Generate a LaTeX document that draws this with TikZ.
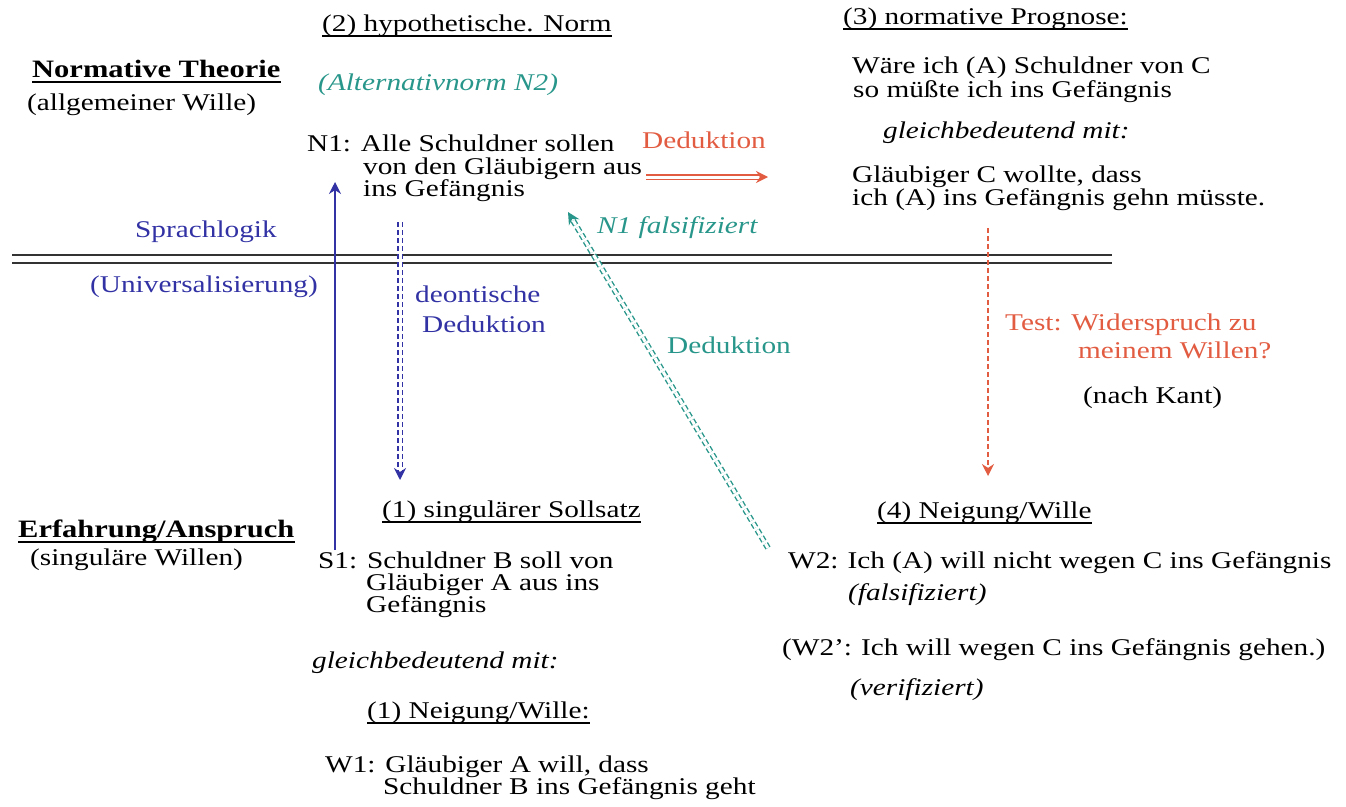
\documentclass[tikz,border=0pt]{standalone}
\usepackage{fontspec}
\setmainfont{Liberation Serif}[FakeStretch=1.22]
\usetikzlibrary{arrows.meta}

\definecolor{dedred}{RGB}{226,92,66}
\definecolor{logblue}{RGB}{50,50,165}
\definecolor{falteal}{RGB}{40,150,138}

\tikzset{
  txt/.style={anchor=base west, inner sep=0pt, font=\fontsize{24}{22}\selectfont},
  it/.style={font=\fontsize{24}{22}\selectfont\itshape},
  bf/.style={font=\fontsize{25}{22}\selectfont\bfseries},
  ul/.style={line width=1.5pt},
  tip/.style={-{Stealth[length=12pt,width=12pt]}},
  dline/.style={double, double distance=3pt, line width=1.4pt},
  dash5/.style={dash pattern=on 5pt off 3pt},
}

\begin{document}
\begin{tikzpicture}[x=1pt,y=-1pt]
  \useasboundingbox (0,0) rectangle (1346,806);
  \clip (0,0) rectangle (1346,806);

  % the border between theory and experience
  \draw[line width=1.8pt, black!80] (12,255) -- (1112,255);
  \draw[line width=1.8pt, black!80] (12,263) -- (1112,263);

  % left headings
  \node[txt, bf] (theo) at (32,77) {Normative Theorie};
  \node[txt] (theo2) at (27,110) {(allgemeiner Wille)};
  \node[txt, bf] (erf) at (18,537) {Erfahrung/Anspruch};
  \node[txt] (erf2) at (30,565) {(singuläre Willen)};

  % (2) norm
  \node[txt] (hyp) at (322,31) {(2) hypothetische. Norm};
  \node[txt, it, text=falteal] (alt) at (318,90) {(Alternativnorm N2)};
  \node[txt] (n1a) at (307,151) {N1: Alle Schuldner sollen};
  \node[txt] (n1b) at (363,174) {von den Gläubigern aus};
  \node[txt] (n1c) at (363,196) {ins Gefängnis};
  \node[txt, text=dedred] (ded1) at (642,148) {Deduktion};
  \node[txt, it, text=falteal] (fal) at (597,233) {N1 falsifiziert};

  % connector labels
  \node[txt, text=logblue] (spr) at (135,237) {Sprachlogik};
  \node[txt, text=logblue] (univ) at (90,292) {(Universalisierung)};
  \node[txt, text=logblue] (deo1) at (415,302) {deontische};
  \node[txt, text=logblue] (deo2) at (422,332) {Deduktion};
  \node[txt, text=falteal] (ded2) at (667,353) {Deduktion};

  % (3) prognosis
  \node[txt] (prog) at (843,24) {(3) normative Prognose:};
  \node[txt] (pr1) at (852,73) {Wäre ich (A) Schuldner von C};
  \node[txt] (pr2) at (853,97) {so müßte ich ins Gefängnis};
  \node[txt, it] (pr3) at (883,138) {gleichbedeutend mit:};
  \node[txt] (pr4) at (852,182) {Gläubiger C wollte, dass};
  \node[txt] (pr5) at (852,205) {ich (A) ins Gefängnis gehn müsste.};
  \node[txt, text=dedred] (test1) at (1005,330) {Test: Widerspruch zu};
  \node[txt, text=dedred] (test2) at (1078,358) {meinem Willen?};
  \node[txt] (kant) at (1083,403) {(nach Kant)};

  % (1) singular
  \node[txt] (soll) at (382,517) {(1) singulärer Sollsatz};
  \node[txt] (s1a) at (318,568) {S1: Schuldner B soll von};
  \node[txt] (s1b) at (366,590) {Gläubiger A aus ins};
  \node[txt] (s1c) at (366,612) {Gefängnis};
  \node[txt, it] (gl) at (312,668) {gleichbedeutend mit:};
  \node[txt] (nw1) at (367,718) {(1) Neigung/Wille:};
  \node[txt] (w1a) at (325,772) {W1: Gläubiger A will, dass};
  \node[txt] (w1b) at (383,794) {Schuldner B ins Gefängnis geht};

  % (4) will
  \node[txt] (nw4) at (877,518) {(4) Neigung/Wille};
  \node[txt] (w2a) at (788,568) {W2:\hspace{9pt}Ich (A) will nicht wegen C ins Gefängnis};
  \node[txt, it] (w2b) at (848,600) {(falsifiziert)};
  \node[txt] (w2c) at (782,655) {(W2':\hspace{9pt}Ich will wegen C ins Gefängnis gehen.)};
  \node[txt, it] (w2d) at (850,695) {(verifiziert)};

  % underlines
  \foreach \n in {theo,erf,hyp,prog,soll,nw1,nw4}
    \draw[ul] ([yshift=-5pt]\n.base west) -- ([yshift=-5pt]\n.base east);

  % arrow ends
  \coordinate (uniLo) at (335,550);
  \coordinate (uniHi) at (335,182);
  \coordinate (deoTop) at (400,222);
  \coordinate (deoBot) at (400,480);
  \coordinate (dedL) at (646,177);
  \coordinate (dedR) at (768,177);
  \coordinate (falLo) at (768,548);
  \coordinate (falTip) at (568,212);
  \coordinate (testTop) at (988,228);
  \coordinate (testBot) at (988,476);

  % arrows
  \draw[logblue, line width=1.4pt, tip] (uniLo) -- (uniHi);
  \draw[logblue, dline, dash5, tip] (deoTop) -- (deoBot);
  \draw[dedred, dline, tip] (dedL) -- (dedR);
  \draw[falteal, dline, dash5, tip] (falLo) -- (falTip);
  \draw[dedred, line width=1.2pt, dash5, tip] (testTop) -- (testBot);
\end{tikzpicture}
\end{document}
